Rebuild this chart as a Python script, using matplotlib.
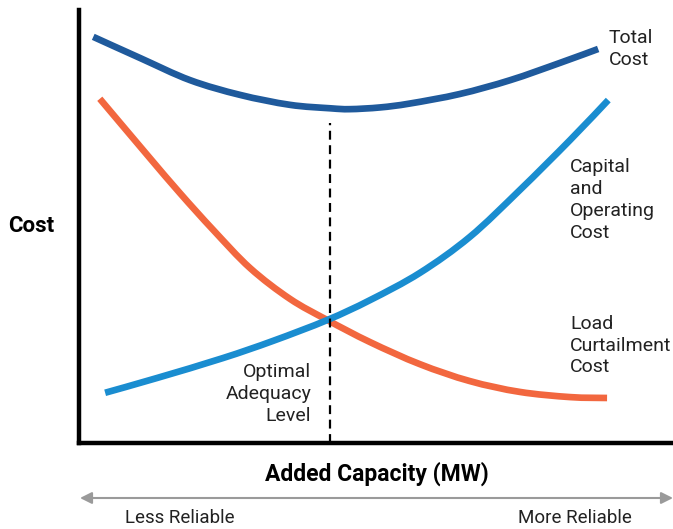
import numpy as np
import matplotlib.pyplot as plt
from matplotlib.patches import FancyArrowPatch, PathPatch
from matplotlib.path import Path

# ------------------------------
# Data (arbitrary units)
# ------------------------------
total_x = [0.24, 1.03, 1.87, 2.71, 3.55, 4.23, 4.56, 5.07, 5.57, 6.41, 7.26, 8.10, 8.74]
total_y = [9.38, 8.89, 8.38, 8.04, 7.81, 7.73, 7.71, 7.75, 7.84, 8.06, 8.38, 8.78, 9.10]

capital_x = [0.44, 1.31, 2.42, 3.27, 4.18, 4.90, 5.74, 6.58, 7.42, 8.27, 8.91]
capital_y = [1.16, 1.50, 1.96, 2.36, 2.84, 3.30, 3.93, 4.76, 5.84, 7.00, 7.92]

load_x = [0.35, 1.15, 1.70, 2.26, 2.88, 3.55, 4.18, 4.90, 5.74, 6.58, 7.42, 8.27, 8.89]
load_y = [7.95, 6.65, 5.77, 4.92, 4.04, 3.33, 2.84, 2.33, 1.82, 1.43, 1.18, 1.06, 1.04]

optimal_x = 4.23
optimal_top = 7.39

plt.rcParams["font.family"] = ["Roboto", "DejaVu Sans"]

W, H = 673, 529
TXT = "#222222"


def smooth_path(xs, ys):
    # Catmull-Rom through the points, drawn as cubic Bezier segments
    p = np.column_stack([xs, ys])
    p = np.vstack([p[0], p, p[-1]])
    verts = [p[1]]
    codes = [Path.MOVETO]
    for i in range(1, len(p) - 2):
        c1 = p[i] + (p[i + 1] - p[i - 1]) / 6
        c2 = p[i + 1] - (p[i + 2] - p[i]) / 6
        verts += [c1, c2, p[i + 1]]
        codes += [Path.CURVE4] * 3
    return Path(verts, codes)


def main():
    fig = plt.figure(figsize=(W / 100, H / 100), dpi=100)
    ax = fig.add_axes([79 / W, 86 / H, 594 / W, 433 / H])
    ax.set_xlim(0, 10)
    ax.set_ylim(0, 10)

    for side in ["top", "right"]:
        ax.spines[side].set_visible(False)
    for side in ["left", "bottom"]:
        ax.spines[side].set_linewidth(3.2)
        ax.spines[side].set_color("black")
    ax.set_xticks([])
    ax.set_yticks([])

    for xs, ys, col in [(total_x, total_y, "#1f5a9c"),
                        (load_x, load_y, "#f2673f"),
                        (capital_x, capital_y, "#1a8dd0")]:
        ax.add_patch(PathPatch(smooth_path(xs, ys), fill=False, edgecolor=col,
                               lw=4.8, capstyle="butt", clip_on=False))

    ax.plot([optimal_x, optimal_x], [0, optimal_top], color="black", lw=1.6,
            ls=(0, (4, 2.5)), zorder=5)

    fs = 14
    ls = 1.28
    ax.text(8.92, 9.09, "Total\nCost", fontsize=fs, va="center", ha="left",
            linespacing=ls, color=TXT)
    ax.text(8.27, 5.62, "Capital\nand\nOperating\nCost", fontsize=fs, va="center",
            ha="left", linespacing=ls, color=TXT)
    ax.text(8.27, 2.25, "Load\nCurtailment\nCost", fontsize=fs, va="center",
            ha="left", linespacing=ls, color=TXT, clip_on=False)
    ax.text(3.91, 1.13, "Optimal\nAdequacy\nLevel", fontsize=fs, va="center",
            ha="right", multialignment="right", linespacing=ls, color=TXT)

    # axis titles
    fig.text(8 / W, 1 - 226 / H, "Cost", fontsize=16, fontweight="bold",
             va="center", ha="left")
    fig.text(377 / W, 1 - 474 / H, "Added Capacity (MW)", fontsize=16.5,
             fontweight="bold", va="center", ha="center")

    # reliability arrow
    fig.patches.append(FancyArrowPatch(
        (80 / W, 1 - 498 / H), (673 / W, 1 - 498 / H), transform=fig.transFigure,
        arrowstyle="<|-|>,head_length=7,head_width=3.5", color="#9a9a9a", lw=1.5,
        shrinkA=0, shrinkB=0))
    fig.text(180 / W, 1 - 518 / H, "Less Reliable", fontsize=13.5, va="center",
             ha="center", color=TXT)
    fig.text(575 / W, 1 - 518 / H, "More Reliable", fontsize=13.5, va="center",
             ha="center", color=TXT)

    fig.savefig("out.png", dpi=100)


if __name__ == "__main__":
    main()
